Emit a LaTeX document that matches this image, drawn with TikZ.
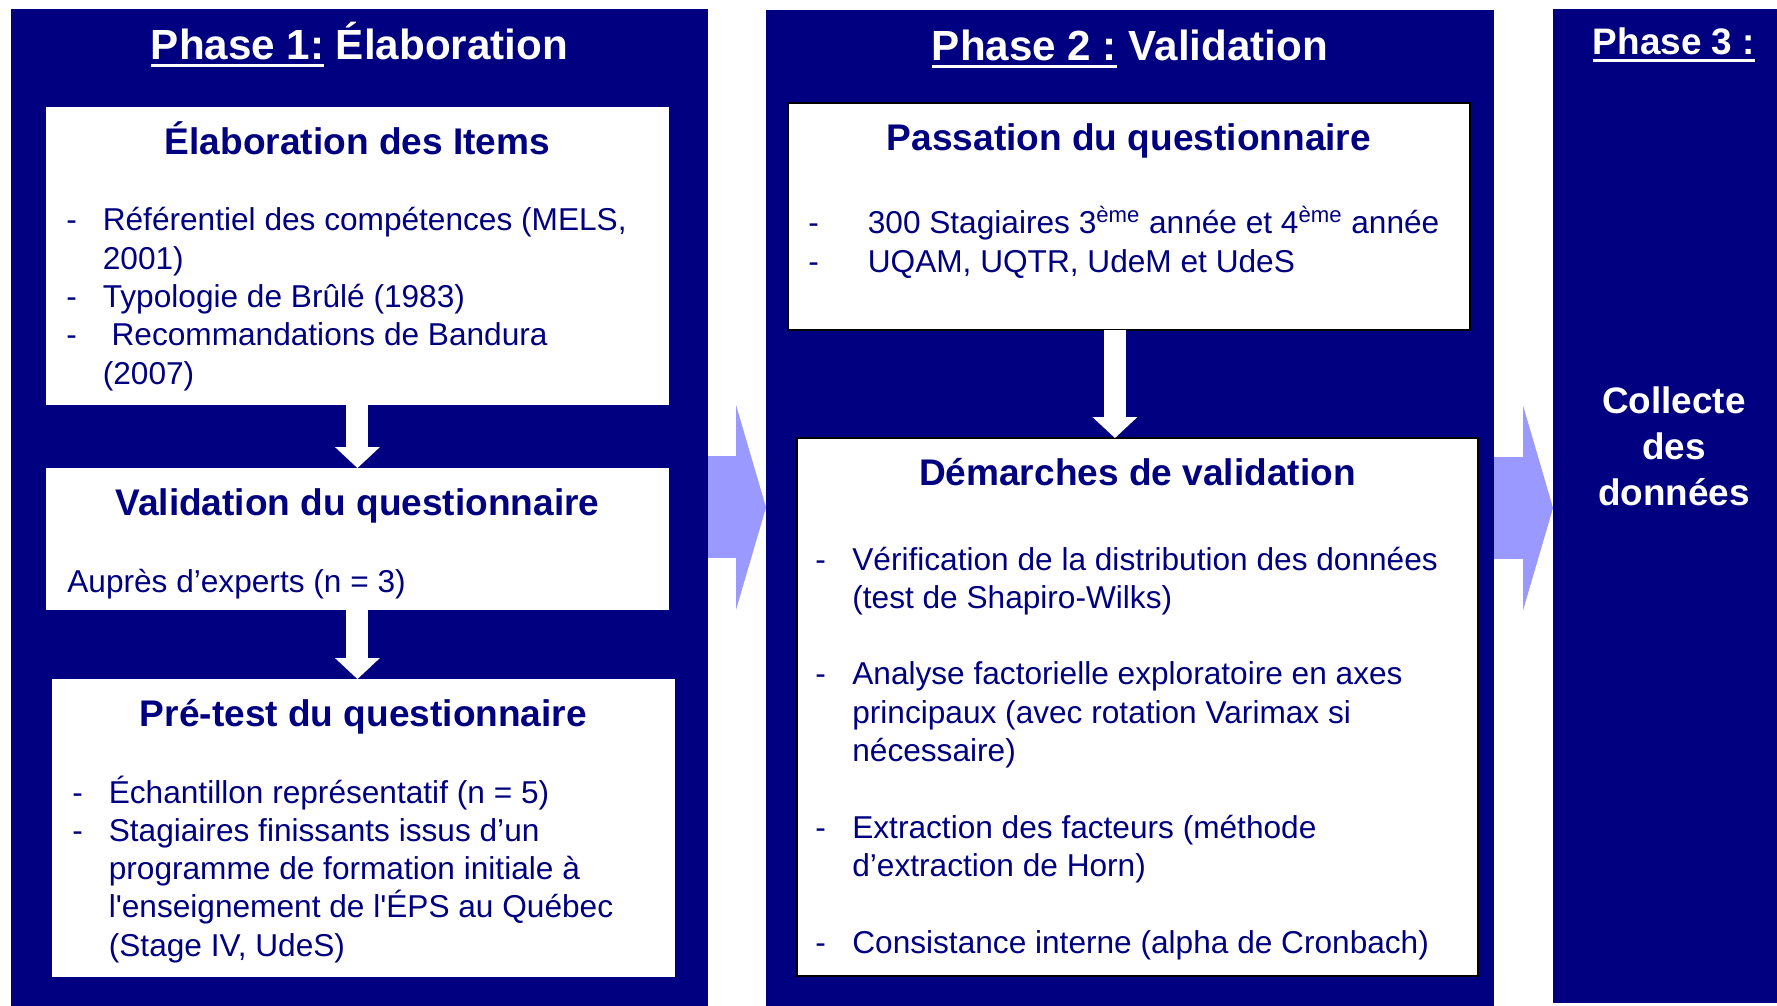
\documentclass[tikz,border=0pt]{standalone}
\usepackage{fontspec}
\setmainfont{Liberation Sans}
\usepackage{tikz}
\usetikzlibrary{arrows.meta}
\usetikzlibrary{calc}
\usetikzlibrary{positioning}
\definecolor{DarkNavy}{RGB}{0,0,128}
\definecolor{LightArrow}{RGB}{153,153,255}

% underline of the phase names
\newcommand{\phaseul}[1]{\setbox0\hbox{#1}\rlap{\rule[-4pt]{\wd0}{1.8pt}}\box0\relax}
% dash items with hanging indent
\newlength{\dashgap}
\newcommand{\dashitem}[1]{\par\noindent\hangindent=\dashgap\hangafter=1\makebox[\dashgap][l]{-}#1}

\begin{document}
\begin{tikzpicture}[x=0.02cm, y=-0.02cm,
  phasebox/.style={fill=DarkNavy, inner sep=0pt, outer sep=0pt, anchor=north west},
  itembox/.style={fill=white, inner sep=0pt, outer sep=0pt, anchor=north west},
  framedbox/.style={itembox, draw=black, line width=1.2pt},
  phasetitle/.style={text=white, anchor=base, inner sep=0pt, font=\fontsize{24}{28}\selectfont\bfseries},
  heading/.style={text=DarkNavy, anchor=base, inner sep=0pt, font=\fontsize{21.1}{26}\selectfont\bfseries},
  itemlist/.style={text=DarkNavy, anchor=base west, inner sep=0pt, font=\fontsize{18}{21.8}\selectfont},
  dnarrow/.style={white, line width=0.44cm, -{Triangle[width=0.9cm, length=0.42cm, line width=0pt]}},
  bigarrow/.style={LightArrow, line width=2.04cm, -{Triangle[width=4.1cm, length=0.6cm, line width=0pt]}}]

\useasboundingbox[fill=white] (0,0) rectangle (1777,1006);

% The three phase panels
\node[phasebox, minimum width=13.94cm, minimum height=19.94cm] (p1) at (11,9) {};
\node[phasebox, minimum width=14.56cm, minimum height=19.92cm] (p2) at (766,10) {};
\node[phasebox, minimum width=4.48cm, minimum height=19.88cm] (p3) at (1553,9) {};

% arrows between the phases
\draw[bigarrow] (p1.east) -- (p1.east -| p2.west);
\draw[bigarrow] (p2.east) -- (p2.east -| p3.west);

% Phase titles
\node[phasetitle] (t1) at ($(p1.north)+(0,51)$) {\phaseul{Phase 1:} Élaboration};
\node[phasetitle] (t2) at ($(p2.north)+(0,51)$) {\phaseul{Phase 2 :} Validation};
\node[phasetitle, font=\fontsize{21}{26}\selectfont\bfseries] (t3) at ($(p3.north)+(9,46)$) {\phaseul{Phase 3 :}};

% Phase 1 boxes
\node[itembox, minimum width=12.46cm, minimum height=5.96cm] (b1) at (46,107) {};
\node[itembox, minimum width=12.46cm, minimum height=2.84cm] (b2) at (46,468) {};
\node[itembox, minimum width=12.46cm, minimum height=5.96cm] (b3) at (52,679) {};

% Phase 2 boxes
\node[framedbox, minimum width=13.64cm, minimum height=4.54cm] (b4) at (788,103) {};
\node[framedbox, minimum width=13.62cm, minimum height=10.76cm] (b5) at (797,438) {};

% white arrows inside the panels
\draw[dnarrow] (b1.south) -- (b2.north);
\draw[dnarrow] (b2.south) -- (b2.south |- b3.north);
\coordinate (c4) at ($(b4.south)+(-14,0)$);
\draw[dnarrow] (c4) -- (c4 |- b5.north);

% box 1
\node[heading] (h1) at ($(b1.north)+(0,48)$) {Élaboration des Items};
\node[itemlist] (l1) at ($(b1.north west)+(20,124)$) {\parbox[t]{12cm}{\raggedright\setlength{\dashgap}{0.73cm}%
  \dashitem{Référentiel des compétences (MELS,\newline 2001)}
  \dashitem{Typologie de Brûlé (1983)}
  \dashitem{\ Recommandations de Bandura\newline (2007)}}};

% box 2
\node[heading] (h2) at ($(b2.north)+(0,47)$) {Validation du questionnaire};
\node[itemlist] (l2) at ($(b2.north west)+(21,124)$) {Auprès d’experts (n = 3)};

% box 3
\node[heading] (h3) at ($(b3.north)+(0,47)$) {Pré-test du questionnaire};
\node[itemlist] (l3) at ($(b3.north west)+(20,124)$) {\parbox[t]{12cm}{\raggedright\setlength{\dashgap}{0.73cm}%
  \dashitem{Échantillon représentatif (n = 5)}
  \dashitem{Stagiaires finissants issus d’un\newline programme de formation initiale à\newline l\textquotesingle enseignement de l\textquotesingle ÉPS au Québec\newline (Stage IV, UdeS)}}};

% box 4
\node[heading] (h4) at ($(b4.north)+(0,48)$) {Passation du questionnaire};
\node[itemlist] (l4) at ($(b4.north west)+(20,131)$) {\parbox[t]{13.2cm}{\raggedright\setlength{\dashgap}{1.19cm}%
  \dashitem{300 Stagiaires 3\textsuperscript{ème} année et 4\textsuperscript{ème} année}
  \dashitem{UQAM, UQTR, UdeM et UdeS}}};

% box 5
\node[heading] (h5) at ($(b5.north)+(0,47)$) {Démarches de validation};
\node[itemlist] (l5) at ($(b5.north west)+(18,132)$) {\parbox[t]{13cm}{\raggedright\setlength{\dashgap}{0.74cm}%
  \dashitem{Vérification de la distribution des données\newline (test de Shapiro-Wilks)}
  \par\vspace{\baselineskip}
  \dashitem{Analyse factorielle exploratoire en axes\newline principaux (avec rotation Varimax si\newline nécessaire)}
  \par\vspace{\baselineskip}
  \dashitem{Extraction des facteurs (méthode\newline d’extraction de Horn)}
  \par\vspace{\baselineskip}
  \dashitem{Consistance interne (alpha de Cronbach)}}};

% Phase 3 text
\node[text=white, anchor=base, align=center, inner sep=0pt, font=\fontsize{21}{26}\selectfont\bfseries] (c3) at ($(p3.north)+(9,496)$) {Collecte\\ des\\ données};

\end{tikzpicture}
\end{document}
